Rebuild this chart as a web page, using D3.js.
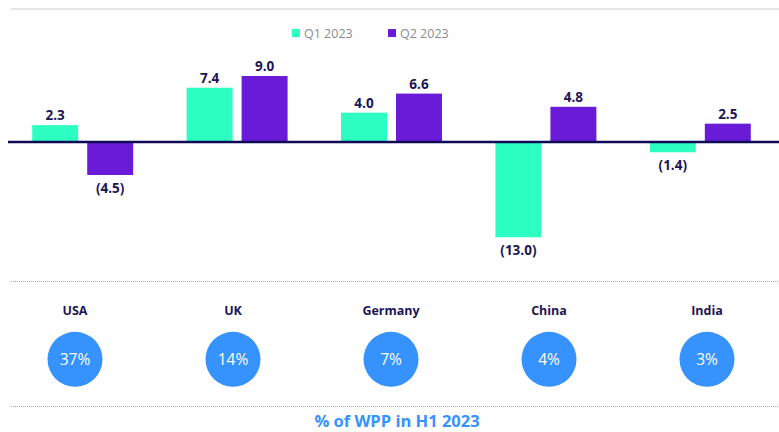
<!DOCTYPE html>
<html>
<head>
<meta charset="utf-8">
<script src="https://cdn.jsdelivr.net/npm/d3@7"></script>
<style>
  body { margin: 0; background: #fff; }
  svg { display: block; font-family: "Open Sans", "Liberation Sans", sans-serif; }
</style>
</head>
<body>
<div id="chart"></div>
<script>
var width = 779;
var height = 432;

// data
var countries = ["USA", "UK", "Germany", "China", "India"];
var seriesNames = ["Q1 2023", "Q2 2023"];
var q1Values = [2.3, 7.4, 4.0, -13.0, -1.4];
var q2Values = [-4.5, 9.0, 6.6, 4.8, 2.5];
var shareLabels = ["37%", "14%", "7%", "4%", "3%"];
var colors = ["#2dffc3", "#6a1bd8"];

var navy = "#1c1657";

var data = countries.map(function(c, i) {
  return { country: c, values: [q1Values[i], q2Values[i]] };
});

var svg = d3.select("#chart").append("svg")
  .attr("width", width)
  .attr("height", height);

// scales
var x0 = d3.scaleBand()
  .domain(countries)
  .range([5.5, 777.5])
  .paddingInner(0.346)
  .paddingOuter(0.173);

var x1 = d3.scaleBand()
  .domain(seriesNames)
  .range([0, x0.bandwidth()])
  .paddingInner(0.164);

var y = d3.scaleLinear()
  .domain([-13, 9])
  .range([237.3, 76]);

// top rule
svg.append("line")
  .attr("x1", 11).attr("x2", width)
  .attr("y1", 9).attr("y2", 9)
  .style("stroke", "#dcdcdc")
  .style("stroke-width", 1.5);

// legend
var legend = svg.selectAll(".legend")
  .data(seriesNames)
  .enter()
  .append("g")
    .attr("transform", function(d, i) { return "translate(" + (292 + i * 96) + ",0)"; });

legend.append("rect")
  .attr("x", 0).attr("y", 29)
  .attr("width", 8).attr("height", 8)
  .style("fill", function(d, i) { return colors[i]; });

legend.append("text")
  .attr("x", 12).attr("y", 37.5)
  .text(function(d) { return d; })
  .style("font-size", "12.5px")
  .style("fill", "#8a8a8a");

// bars
var groups = svg.selectAll(".group")
  .data(data)
  .enter()
  .append("g")
    .attr("transform", function(d) { return "translate(" + x0(d.country) + ",0)"; });

var bars = groups.selectAll("g")
  .data(function(d) {
    return d.values.map(function(v, i) { return { key: seriesNames[i], value: v, idx: i }; });
  })
  .enter()
  .append("g");

bars.append("rect")
  .attr("x", function(d) { return x1(d.key); })
  .attr("width", x1.bandwidth())
  .attr("y", function(d) { return y(Math.max(0, d.value)); })
  .attr("height", function(d) { return Math.abs(y(d.value) - y(0)); })
  .style("fill", function(d) { return colors[d.idx]; });

bars.append("text")
  .attr("x", function(d) { return x1(d.key) + x1.bandwidth() / 2; })
  .attr("y", function(d) { return d.value >= 0 ? y(d.value) - 5 : y(d.value) + 18; })
  .attr("text-anchor", "middle")
  .text(function(d) {
    var s = Math.abs(d.value).toFixed(1);
    return d.value < 0 ? "(" + s + ")" : s;
  })
  .style("font-size", "13.5px")
  .style("font-weight", "bold")
  .style("fill", navy);

// zero line
svg.append("line")
  .attr("x1", 8).attr("x2", width)
  .attr("y1", y(0)).attr("y2", y(0))
  .style("stroke", "#0e0a55")
  .style("stroke-width", 2.5);

// dotted separators
[281.5, 406.5].forEach(function(yy) {
  svg.append("line")
    .attr("x1", 11).attr("x2", width)
    .attr("y1", yy).attr("y2", yy)
    .style("stroke", "#a7a3c4")
    .style("stroke-width", 1)
    .style("stroke-dasharray", "1,1");
});

// share of WPP row
var xs = d3.scalePoint()
  .domain(countries)
  .range([75, 707]);

var share = svg.selectAll(".share")
  .data(countries)
  .enter()
  .append("g")
    .attr("transform", function(d) { return "translate(" + xs(d) + ",0)"; });

share.append("text")
  .attr("y", 315)
  .attr("text-anchor", "middle")
  .text(function(d) { return d; })
  .style("font-size", "12.5px")
  .style("font-weight", "bold")
  .style("fill", navy);

share.append("circle")
  .attr("cy", 359.3)
  .attr("r", 27.5)
  .style("fill", "#3692fd");

share.append("text")
  .attr("y", 365)
  .attr("text-anchor", "middle")
  .text(function(d, i) { return shareLabels[i]; })
  .style("font-size", "15.5px")
  .style("fill", "#fff");

svg.append("text")
  .attr("x", 397)
  .attr("y", 427)
  .attr("text-anchor", "middle")
  .text("% of WPP in H1 2023")
  .style("font-size", "16.5px")
  .style("font-weight", "bold")
  .style("fill", "#3692fd");
</script>
</body>
</html>
